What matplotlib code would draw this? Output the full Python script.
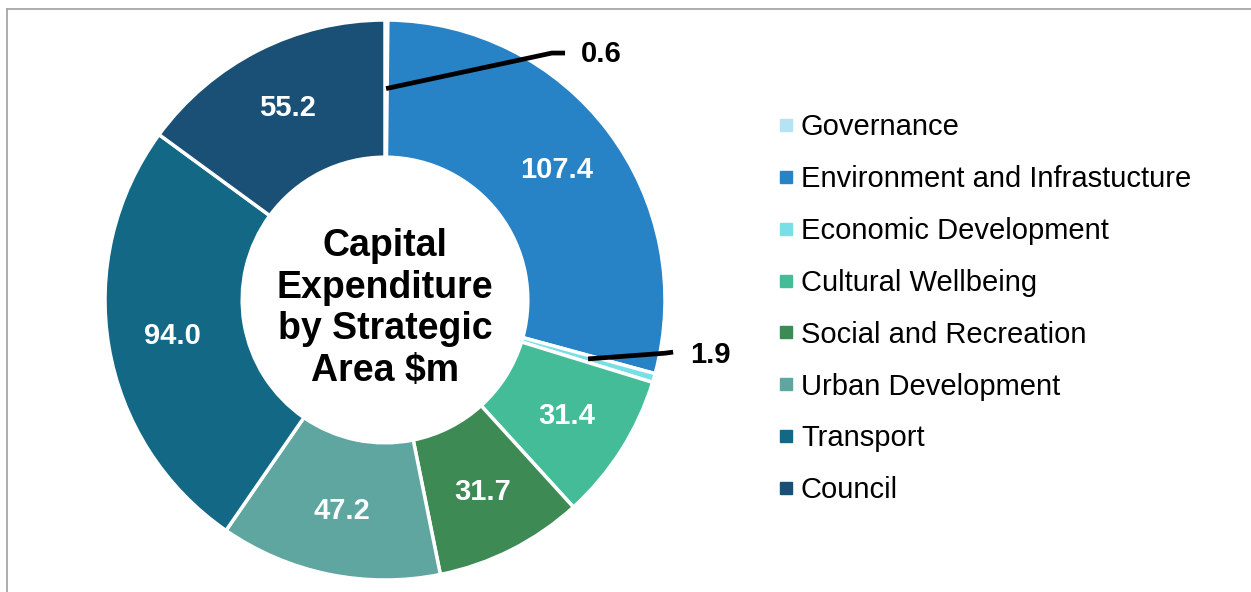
import numpy as np
import matplotlib
matplotlib.use('Agg')
import matplotlib.pyplot as plt
from matplotlib.lines import Line2D

plt.rcParams['font.family'] = ['Liberation Sans', 'DejaVu Sans']

areas = ['Governance', 'Environment and Infrastucture', 'Economic Development',
         'Cultural Wellbeing', 'Social and Recreation', 'Urban Development',
         'Transport', 'Council']
values = [0.6, 107.4, 1.9, 31.4, 31.7, 47.2, 94.0, 55.2]
colors = ['#b4e3f4', '#2882c6', '#79dfe6', '#45bc98', '#3e8a55', '#5fa5a0',
          '#136886', '#1b5076']
center_title = 'Capital\nExpenditure\nby Strategic\nArea $m'

W, H = 1251, 592
fig = plt.figure(figsize=(W / 100, H / 100), dpi=100)

# pie: centre (385, 300) px from top-left, outer radius 280 px
cx, cy, r = 385, H - 300, 280
ax = fig.add_axes([(cx - r) / W, (cy - r) / H, 2 * r / W, 2 * r / H])

ring = 0.49
wedges, _ = ax.pie(values, colors=colors, startangle=90, counterclock=False,
                   radius=1.0,
                   wedgeprops=dict(width=ring, edgecolor='white', linewidth=2.5))
ax.set_xlim(-1, 1)
ax.set_ylim(-1, 1)
ax.axis('off')

mid_r = 1 - ring / 2
for w, v in zip(wedges, values):
    if v < 5:
        continue
    ang = np.deg2rad((w.theta1 + w.theta2) / 2)
    x, y = 0.77 * np.cos(ang), 0.77 * np.sin(ang)
    ax.text(x, y, f'{v:.1f}', color='white', fontsize=21, fontweight='bold',
            ha='center', va='center')

# leader lines for the two tiny slices
small = {0: ((0.596, 0.882), (0.643, 0.882), (0.70, 0.878)),
         2: ((1.0, -0.19), (1.029, -0.186), (1.09, -0.196))}
for i, (p1, p2, tp) in small.items():
    w = wedges[i]
    ang = np.deg2rad((w.theta1 + w.theta2) / 2)
    x0, y0 = mid_r * np.cos(ang), mid_r * np.sin(ang)
    ax.plot([x0, p1[0], p2[0]], [y0, p1[1], p2[1]], color='black', lw=3.4,
            solid_capstyle='butt', clip_on=False)
    ax.text(tp[0], tp[1], f'{values[i]:.1f}', fontsize=21, fontweight='bold',
            ha='left', va='center', clip_on=False)

ax.text(0, -0.03, center_title, ha='center', va='center', fontsize=27,
        fontweight='bold', linespacing=1.2)

handles = [Line2D([], [], marker='s', color=c, linestyle='none', markersize=8)
           for c in colors]
fig.legend(handles, areas, loc='upper left', bbox_to_anchor=(779 / W, 1 - 113 / H),
           frameon=False, fontsize=21, handlelength=0.5, handletextpad=0.25,
           labelspacing=0.82, borderaxespad=0, borderpad=0)

# chart frame (left and top edges visible)
fig.add_artist(Line2D([7 / W, 7 / W], [0, 1 - 9 / H], color='#a6a6a6', lw=1.3,
                      transform=fig.transFigure))
fig.add_artist(Line2D([7 / W, 1], [1 - 9 / H, 1 - 9 / H], color='#a6a6a6', lw=1.3,
                      transform=fig.transFigure))

fig.savefig('out.png', dpi=100)
